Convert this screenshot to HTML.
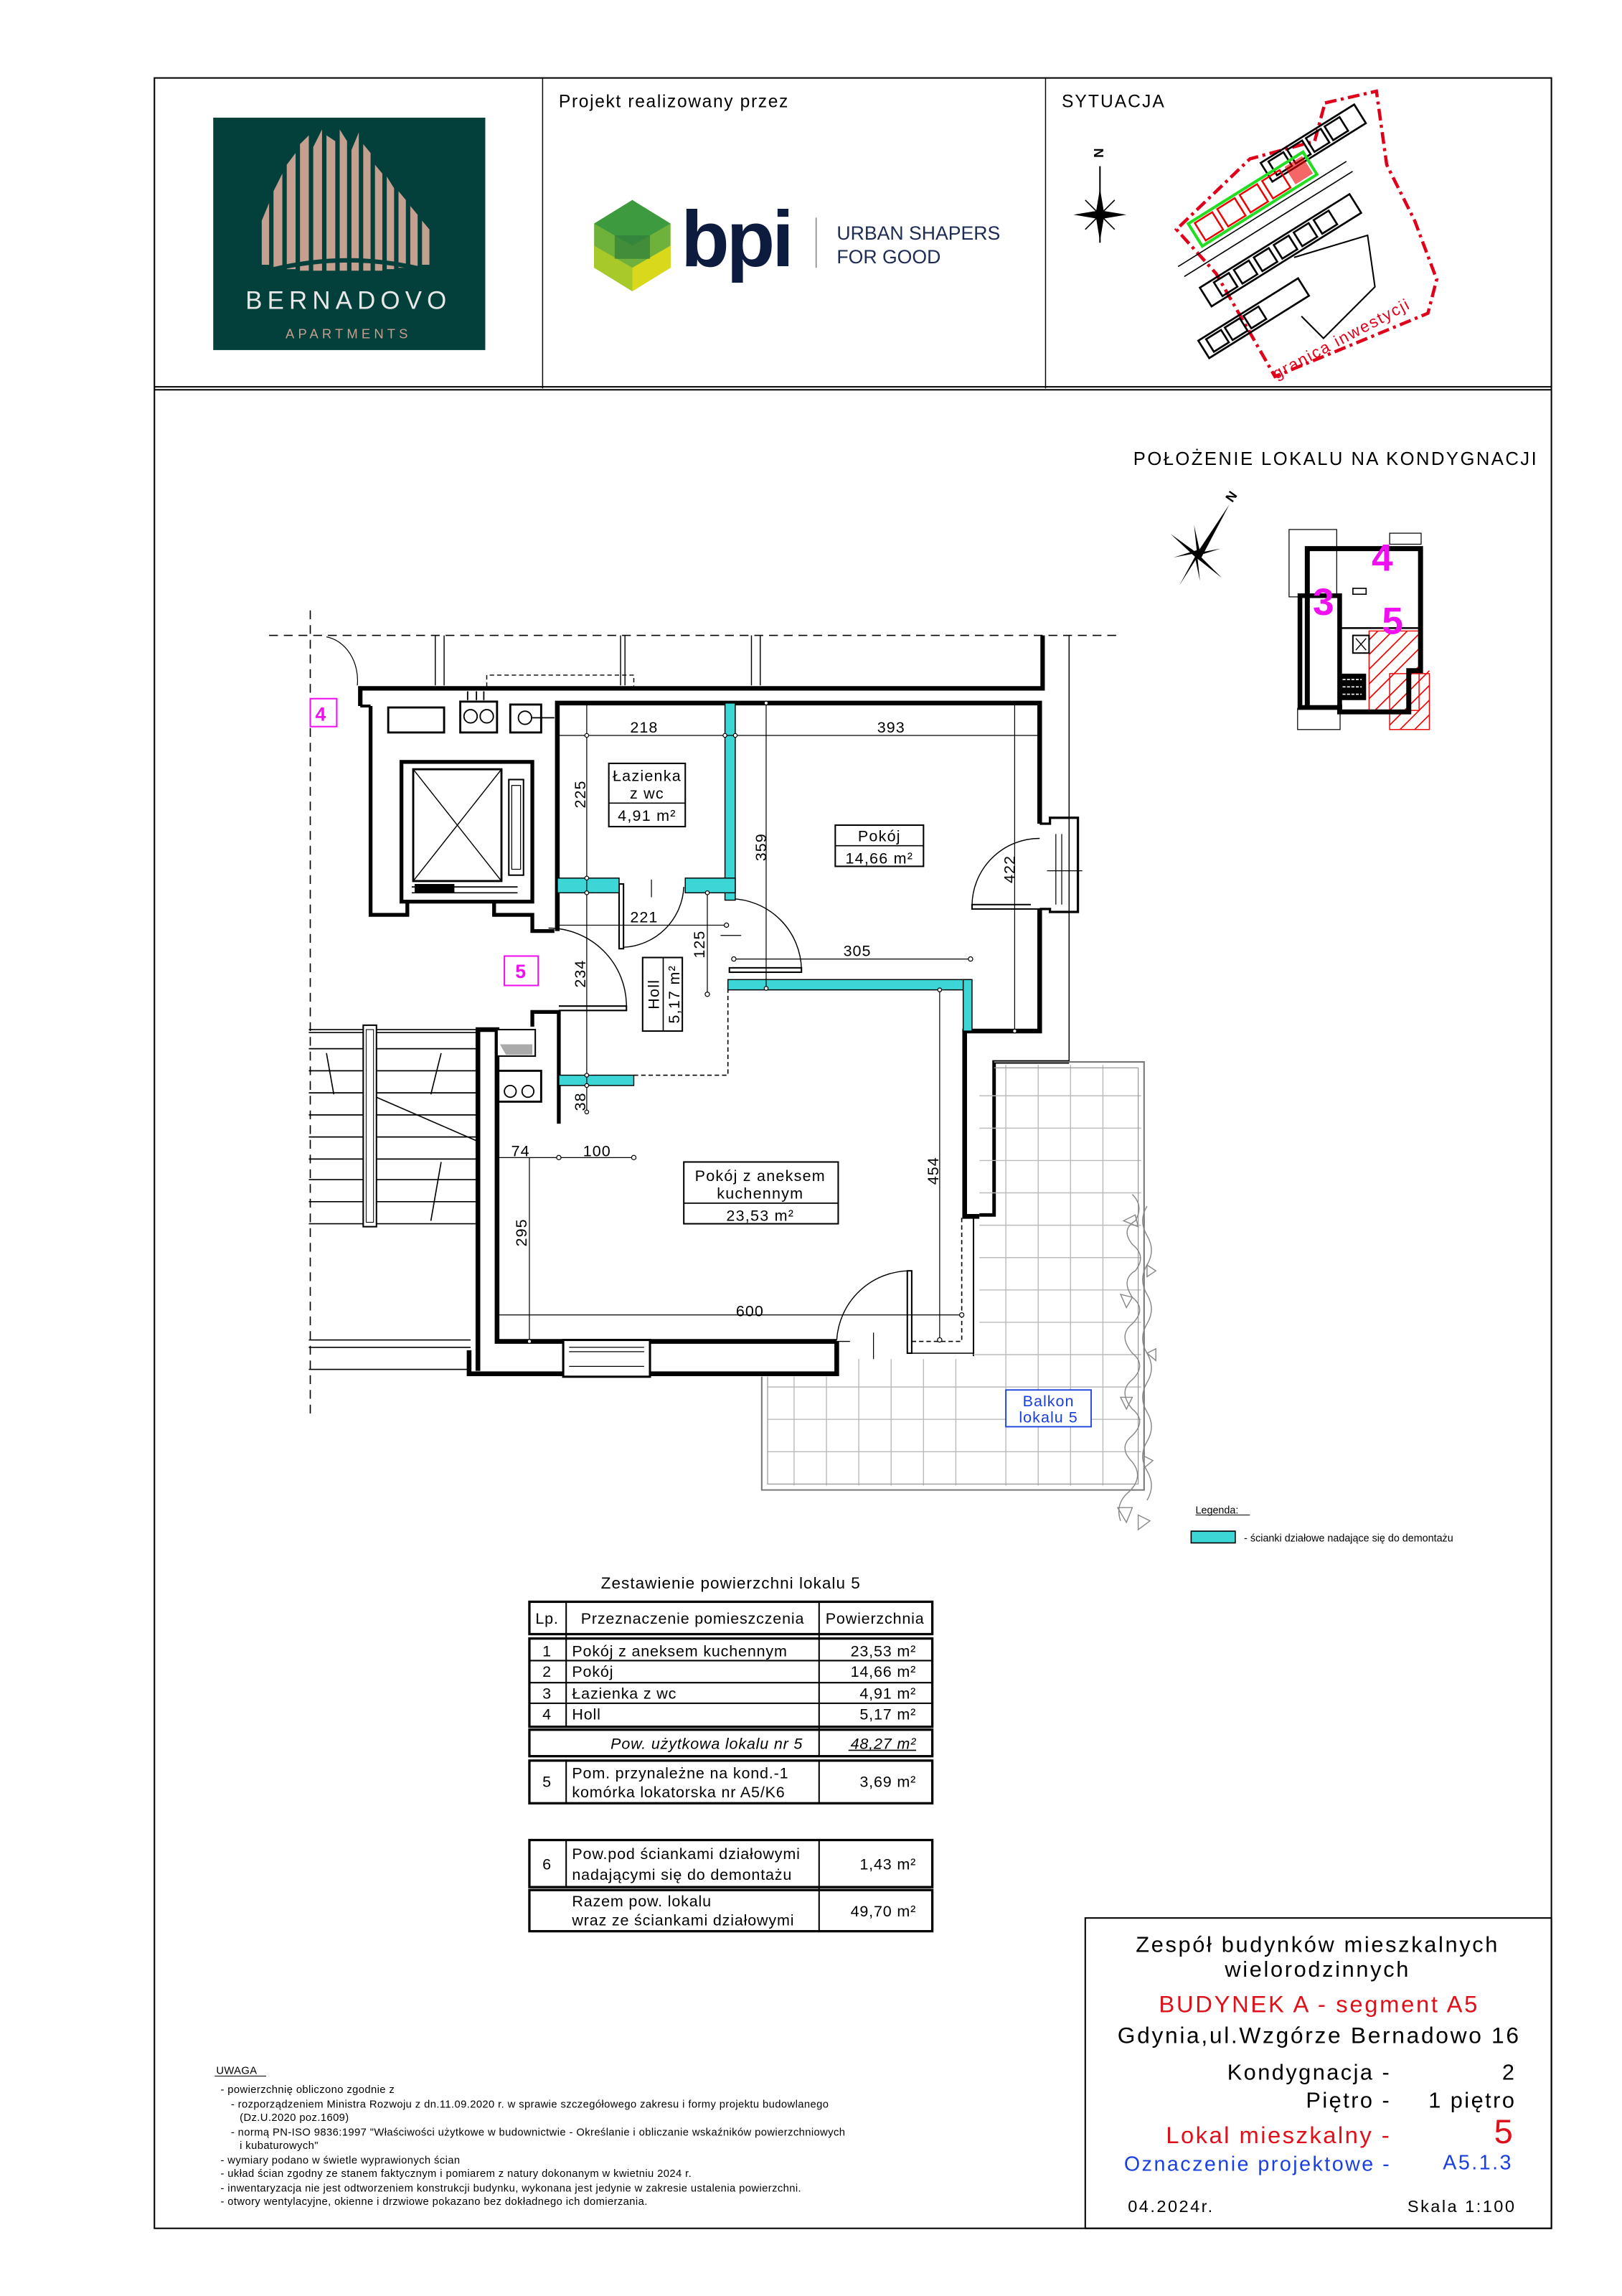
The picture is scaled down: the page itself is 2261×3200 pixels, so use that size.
<!DOCTYPE html>
<html><head><meta charset="utf-8">
<style>
html,body{margin:0;padding:0;background:#fff;}
svg{display:block;}
text{font-family:"Liberation Sans",sans-serif;}
.n{font-family:"Liberation Sans Narrow","Liberation Sans",sans-serif;}
</style></head>
<body>
<svg width="2261" height="3200" viewBox="0 0 1103 1561" preserveAspectRatio="none" xmlns="http://www.w3.org/2000/svg">
<rect width="1103" height="1561" fill="#fff"/>
<rect x="105" y="53" width="950" height="1462" fill="none" stroke="#000" stroke-width="1"/>
<line x1="105" y1="263" x2="1055" y2="263" stroke="#000" stroke-width="1"/>
<line x1="105" y1="265" x2="1055" y2="265" stroke="#000" stroke-width="1"/>
<line x1="369" y1="53" x2="369" y2="264" stroke="#000" stroke-width="0.7"/>
<line x1="711" y1="53" x2="711" y2="264" stroke="#000" stroke-width="0.7"/>

<rect x="145" y="80" width="185" height="158" fill="#04403b"/>
<g fill="#c59f8f">
<polygon points="178,180 178,150 183,138 183,180"/>
<polygon points="186,182 186,130 192,118 192,182"/>
<polygon points="195,183 195,112 201,104 201,183"/>
<polygon points="204,184 204,98 210,92 210,184"/>
<polygon points="213,184 213,100 219,88 219,184"/>
<polygon points="222,184 222,92 228,96 228,184"/>
<polygon points="231,184 231,88 236,96 236,184"/>
<polygon points="239,184 239,102 244,90 244,184"/>
<polygon points="247,184 247,98 252,104 252,184"/>
<polygon points="255,184 255,112 260,118 260,184"/>
<polygon points="263,183 263,120 268,128 268,183"/>
<polygon points="271,182 271,130 276,136 276,182"/>
<polygon points="279,181 279,140 284,146 284,181"/>
<polygon points="287,180 287,150 292,156 292,180"/>
</g>
<path d="M175,186 Q237,168 298,186" stroke="#04403b" stroke-width="3" fill="none"/>
<text x="237" y="210" font-size="17" fill="#e8e8e8" text-anchor="middle" letter-spacing="3.5">BERNADOVO</text>
<text x="237" y="230" font-size="9" fill="#c59f8f" text-anchor="middle" letter-spacing="2.5">APARTMENTS</text>

<text x="380" y="73" font-size="12" letter-spacing="0.8">Projekt realizowany przez</text>
<polygon points="430,136 456,152 456,182 430,198 404,182 404,152" fill="#6fb23b"/>
<polygon points="430,136 456,152 430,167 404,152" fill="#3e9a3e"/>
<polygon points="404,167 430,182 430,198 404,182" fill="#a8c92a"/>
<polygon points="430,182 456,167 456,182 430,198" fill="#d9d81a"/>
<polygon points="418,160 442,160 442,176 418,176" fill="#2f7d3a" opacity="0.7"/>
<text x="463" y="181" font-size="54" font-weight="bold" fill="#0d1b3e" letter-spacing="-2">bpi</text>
<line x1="555" y1="148" x2="555" y2="182" stroke="#888" stroke-width="0.8"/>
<text x="569" y="163" font-size="13" fill="#1d2c55">URBAN SHAPERS</text>
<text x="569" y="179" font-size="13" fill="#1d2c55">FOR GOOD</text>

<text x="722" y="73" font-size="12" letter-spacing="1">SYTUACJA</text>
<text x="748" y="108" font-size="9" text-anchor="middle" transform="rotate(90 748 104)" font-weight="bold">N</text>
<line x1="748" y1="113" x2="748" y2="165" stroke="#000" stroke-width="1"/>
<polygon points="748,128 751,146 748,164 745,146" fill="#000"/>
<polygon points="730,146 748,143 766,146 748,149" fill="#000"/>
<line x1="738" y1="136" x2="758" y2="156" stroke="#000" stroke-width="0.8"/>
<line x1="758" y1="136" x2="738" y2="156" stroke="#000" stroke-width="0.8"/>
<polygon points="901,70 936,62 943,112 962,150 977,190 971,213 867,256 827,186 800,156 850,108 894,96" fill="none" stroke="#e0001a" stroke-width="2.2" stroke-dasharray="8,3,2,3"/>
<g transform="rotate(-32 870 150)" fill="none" stroke="#000" stroke-width="1.3">
<rect x="880" y="110" width="75" height="15"/>
<rect x="885" y="112" width="12" height="11"/><rect x="900" y="112" width="12" height="11"/><rect x="915" y="112" width="12" height="11"/><rect x="930" y="112" width="12" height="11"/>
<rect x="800" y="160" width="120" height="15"/>
<rect x="810" y="162" width="12" height="11"/><rect x="826" y="162" width="12" height="11"/><rect x="842" y="162" width="12" height="11"/><rect x="858" y="162" width="12" height="11"/><rect x="874" y="162" width="12" height="11"/><rect x="890" y="162" width="12" height="11"/>
<rect x="780" y="190" width="80" height="14"/>
<rect x="785" y="192" width="12" height="10"/><rect x="800" y="192" width="12" height="10"/><rect x="815" y="192" width="12" height="10"/>
<path d="M795,140 L930,140 M795,148 L930,148" stroke-width="0.8"/>
</g>
<g transform="rotate(-32 850 140)">
<rect x="808" y="128" width="92" height="18" fill="none" stroke="#22dd22" stroke-width="2"/>
<rect x="812" y="130" width="14" height="14" fill="none" stroke="#e00" stroke-width="1.2"/>
<rect x="830" y="130" width="14" height="14" fill="none" stroke="#e00" stroke-width="1.2"/>
<rect x="848" y="130" width="14" height="14" fill="none" stroke="#e00" stroke-width="1.2"/>
<rect x="866" y="130" width="14" height="14" fill="none" stroke="#e00" stroke-width="1.2"/>
<rect x="884" y="130" width="14" height="14" fill="#e00" opacity="0.6"/>
</g>
<path d="M880,175 L930,160 L935,195 L900,230 L885,215" fill="none" stroke="#000" stroke-width="1"/>
<text x="0" y="0" font-size="11" fill="#e0001a" letter-spacing="1" transform="translate(868,258) rotate(-28)">granica inwestycji</text>

<text x="1046" y="316" font-size="12.5" text-anchor="end" letter-spacing="1.2">POŁOŻENIE LOKALU NA KONDYGNACJI</text>
<g transform="translate(814,376)">
<polygon points="0,0 22,-33 3,3" fill="#000"/>
<polygon points="0,0 -18,-13 -2,2" fill="#000"/>
<polygon points="0,0 -12,22 2,0" fill="#000"/>
<polygon points="0,0 17,17 -2,2" fill="#000"/>
<polygon points="0,0 -2,-19 2,-1" fill="#000"/>
<polygon points="0,0 16,-3 0,2" fill="#000"/>
<polygon points="0,0 -16,3 0,-2" fill="#000"/>
<polygon points="0,0 2,19 -2,0" fill="#000"/>
<text x="24" y="-34" font-size="9" transform="rotate(-55 24 -34)" font-weight="bold">N</text>
</g>
<g>
<rect x="876.6" y="360" width="32.4" height="45.8" fill="none" stroke="#000" stroke-width="0.6"/>
<rect x="945" y="362.5" width="21.4" height="7.5" fill="none" stroke="#000" stroke-width="0.6"/>
<rect x="882.4" y="481.6" width="28.9" height="14.4" fill="none" stroke="#000" stroke-width="0.6"/>
<polygon points="931,429 965,429 965,458 972,458 972,496 945,496 945,483 931,483" fill="#fff"/>
<g stroke="#e00" stroke-width="0.8">
<line x1="931" y1="435" x2="937" y2="429"/><line x1="931" y1="445" x2="947" y2="429"/><line x1="931" y1="455" x2="957" y2="429"/><line x1="931" y1="465" x2="965" y2="431"/><line x1="931" y1="475" x2="965" y2="441"/><line x1="935" y1="483" x2="965" y2="453"/><line x1="945" y1="483" x2="972" y2="456"/><line x1="945" y1="493" x2="972" y2="466"/><line x1="952" y1="496" x2="972" y2="476"/><line x1="962" y1="496" x2="972" y2="486"/>
</g>
<rect x="931" y="429" width="34" height="54" fill="none" stroke="#e00" stroke-width="0.7"/>
<rect x="945" y="458" width="27" height="38" fill="none" stroke="#e00" stroke-width="0.7"/>
<path d="M889,481 L889,373 L966,373 L966,456 L958,456 L958,484 L911,484 L911,479" fill="none" stroke="#000" stroke-width="3.4"/>
<path d="M884,405 L911,405 L911,481 L884,481 Z" fill="none" stroke="#000" stroke-width="3.2"/>
<line x1="911" y1="427" x2="966" y2="427" stroke="#000" stroke-width="1.2"/>
<rect x="920" y="400" width="9" height="4" fill="none" stroke="#000" stroke-width="0.8"/>
<rect x="920" y="432" width="11" height="12" fill="none" stroke="#000" stroke-width="1"/>
<path d="M922,434 L929,442 M929,434 L922,442" stroke="#000" stroke-width="0.7"/>
<rect x="911" y="458" width="18" height="18" fill="#000"/>
<path d="M913,462 L926,462 M913,467 L926,467 M913,472 L926,472" stroke="#fff" stroke-width="0.8" stroke-dasharray="2,1"/>
<text x="940" y="388" font-size="26" fill="#ee10ee" font-weight="bold" text-anchor="middle">4</text>
<text x="900" y="418" font-size="26" fill="#ee10ee" font-weight="bold" text-anchor="middle">3</text>
<text x="947" y="431" font-size="26" fill="#ee10ee" font-weight="bold" text-anchor="middle">5</text>
</g>

<line x1="183" y1="432" x2="762" y2="432" stroke="#000" stroke-width="0.8" stroke-dasharray="6,4"/>
<line x1="211" y1="415" x2="211" y2="962" stroke="#000" stroke-width="0.8" stroke-dasharray="6,4"/>
<path d="M222,433 A25,30 0 0 1 243,466" fill="none" stroke="#000" stroke-width="0.6"/>
<g stroke="#000" stroke-width="0.7">
<line x1="296" y1="432" x2="296" y2="466"/><line x1="302" y1="432" x2="302" y2="466"/>
<line x1="422" y1="432" x2="422" y2="466"/><line x1="425" y1="432" x2="425" y2="466"/>
<line x1="511" y1="432" x2="511" y2="466"/><line x1="517" y1="432" x2="517" y2="466"/>
<line x1="727" y1="432" x2="727" y2="722"/>
</g>
<path d="M331,467 L331,459 L431,459 L431,467" fill="none" stroke="#000" stroke-width="0.7" stroke-dasharray="3,2"/>
<path d="M245,480 L245,468 L709,468 L709,432" fill="none" stroke="#000" stroke-width="3"/>
<path d="M252,480 L252,622 L277,622 L277,612 M336,612 L336,622 L362,622 L362,633 L377,633" fill="none" stroke="#000" stroke-width="2.6"/>
<path d="M245,480 L252,480" stroke="#000" stroke-width="2"/>
<g fill="none" stroke="#000" stroke-width="1.4">
<rect x="264" y="481" width="38" height="17"/>
<rect x="313" y="477" width="25" height="21"/>
<rect x="347" y="479" width="21" height="19"/>
</g>
<g fill="none" stroke="#000" stroke-width="0.9">
<circle cx="320" cy="487" r="4.5"/><circle cx="331" cy="487" r="4.5"/><circle cx="357" cy="488" r="4.5"/>
<line x1="362" y1="488" x2="377" y2="488"/>
<line x1="318" y1="476" x2="318" y2="470"/><line x1="324" y1="476" x2="324" y2="470"/><line x1="329" y1="476" x2="329" y2="470"/>
</g>
<rect x="273" y="518" width="89" height="95" fill="none" stroke="#000" stroke-width="2.6"/>
<rect x="281" y="523" width="60" height="76" fill="none" stroke="#000" stroke-width="1.4"/>
<path d="M281,523 L341,599 M341,523 L281,599" stroke="#000" stroke-width="0.7"/>
<rect x="346" y="530" width="10" height="65" fill="none" stroke="#000" stroke-width="1"/>
<rect x="348" y="534" width="6" height="57" fill="none" stroke="#000" stroke-width="0.6"/>
<rect x="282" y="601" width="27" height="6" fill="#000"/>
<path d="M280,603 L352,603 M280,607 L352,607" stroke="#000" stroke-width="0.8"/>
<path d="M379,633 L379,478 L707,478 L707,560 M707,618 L707,701 L656,701 L656,827 L666,827" fill="none" stroke="#000" stroke-width="3.2"/>
<path d="M727,722 L676,722 L676,826 L666,826" fill="none" stroke="#000" stroke-width="2.4"/>
<path d="M707,560 L714,560 L714,556 L733,556 L733,620 L714,620 L714,618 L707,618" fill="none" stroke="#000" stroke-width="1.6"/>
<path d="M718,567 L718,615 M722,567 L722,615" stroke="#000" stroke-width="0.6"/>
<path d="M701,615 L661,615 L661,618 L707,618" fill="none" stroke="#000" stroke-width="1"/>
<path d="M661,616 A46,46 0 0 1 707,570" fill="none" stroke="#000" stroke-width="0.7"/>
<line x1="712" y1="592" x2="736" y2="592" stroke="#000" stroke-width="0.6"/>
<path d="M362,698 L362,688 L380,688 L380,764" fill="none" stroke="#000" stroke-width="2.6"/>
<path d="M380,684 L426,684 L426,687 L380,687" fill="none" stroke="#000" stroke-width="1"/>
<path d="M373,631 A53,53 0 0 1 426,684" fill="none" stroke="#000" stroke-width="0.7"/>
<path d="M325,932 L325,700 L338,700 L338,756 M338,756 L338,912 L569,912" fill="none" stroke="#000" stroke-width="3.2"/>
<path d="M319,918 L319,934 L569,934 L569,912" fill="none" stroke="#000" stroke-width="3.2"/>
<path d="M324,700 L338,700" stroke="#000" stroke-width="2"/>
<rect x="383" y="911" width="59" height="25" fill="#fff" stroke="#000" stroke-width="1.5"/>
<path d="M387,916 L438,916 M387,919 L438,919 M387,929 L438,929" stroke="#000" stroke-width="0.6"/>
<path d="M569,912 L578,912 M569,911 A50,50 0 0 1 619,864" fill="none" stroke="#000" stroke-width="0.7"/>
<rect x="617" y="864" width="3" height="56" fill="none" stroke="#000" stroke-width="1"/>
<path d="M620,920 L662,920" stroke="#000" stroke-width="0.7"/>
<path d="M594,906 L594,924" stroke="#000" stroke-width="0.6"/>
<path d="M620,912 L654,912 L654,826" fill="none" stroke="#000" stroke-width="0.8" stroke-dasharray="3,2"/>
<path d="M662,826 L662,922" stroke="#000" stroke-width="1"/>
<rect x="421" y="601" width="3" height="44" fill="none" stroke="#000" stroke-width="1"/>
<path d="M424,644 A43,43 0 0 0 465,603" fill="none" stroke="#000" stroke-width="0.7"/>
<line x1="443" y1="598" x2="443" y2="610" stroke="#000" stroke-width="0.6"/>
<path d="M497,611 A49,49 0 0 1 545,659" fill="none" stroke="#000" stroke-width="0.7"/>
<rect x="496" y="658" width="49" height="3" fill="none" stroke="#000" stroke-width="1"/>
<line x1="490" y1="636" x2="504" y2="636" stroke="#000" stroke-width="0.6"/>
<path d="M431,731 L495,731 L495,672" fill="none" stroke="#000" stroke-width="0.8" stroke-dasharray="3,2"/>
<g fill="#3cd6d6" stroke="#000" stroke-width="0.7">
<rect x="493" y="478" width="7" height="134"/>
<rect x="379" y="597" width="42" height="10"/>
<rect x="466" y="597" width="34" height="10"/>
<rect x="495" y="666" width="165" height="7"/>
<rect x="655" y="666" width="6" height="35"/>
<rect x="380" y="731" width="51" height="7"/>
</g>
<rect x="338" y="700" width="26" height="18" fill="#fff" stroke="#000" stroke-width="1"/>
<polygon points="340,710 362,710 362,717 344,717" fill="#aaa"/>
<rect x="338" y="728" width="30" height="21" fill="none" stroke="#000" stroke-width="1.4"/>
<circle cx="347" cy="742" r="4" fill="none" stroke="#000" stroke-width="0.9"/>
<circle cx="359" cy="742" r="4" fill="none" stroke="#000" stroke-width="0.9"/>
<g stroke="#000" stroke-width="0.8">
<line x1="210" y1="700" x2="325" y2="700"/><line x1="210" y1="702" x2="325" y2="702"/>
<line x1="210" y1="713" x2="325" y2="713"/><line x1="210" y1="728" x2="325" y2="728"/>
<line x1="210" y1="743" x2="325" y2="743"/><line x1="210" y1="758" x2="325" y2="758"/>
<line x1="210" y1="773" x2="325" y2="773"/><line x1="210" y1="788" x2="325" y2="788"/>
<line x1="210" y1="802" x2="325" y2="802"/><line x1="210" y1="817" x2="325" y2="817"/>
<line x1="210" y1="832" x2="248" y2="832"/><line x1="256" y1="832" x2="325" y2="832"/>
<line x1="222" y1="716" x2="227" y2="744"/><line x1="300" y1="716" x2="293" y2="744"/>
<line x1="300" y1="790" x2="293" y2="830"/>
<line x1="256" y1="746" x2="325" y2="776"/>
<line x1="210" y1="911" x2="320" y2="911"/><line x1="210" y1="916" x2="320" y2="916"/>
<line x1="210" y1="931" x2="320" y2="931"/>
</g>
<rect x="247" y="697" width="9" height="137" fill="#fff" stroke="#000" stroke-width="1"/>
<rect x="249" y="700" width="5" height="131" fill="none" stroke="#000" stroke-width="0.5"/>
<g stroke="#bbb" stroke-width="0.7">
<line x1="684" y1="724" x2="684" y2="1010"/><line x1="706" y1="724" x2="706" y2="1010"/>
<line x1="728" y1="724" x2="728" y2="1010"/><line x1="750" y1="724" x2="750" y2="1010"/>
<line x1="540" y1="936" x2="540" y2="1010"/><line x1="562" y1="936" x2="562" y2="1010"/>
<line x1="584" y1="924" x2="584" y2="1010"/><line x1="606" y1="924" x2="606" y2="1010"/>
<line x1="628" y1="924" x2="628" y2="1010"/><line x1="650" y1="924" x2="650" y2="1010"/>
<line x1="666" y1="745" x2="776" y2="745"/><line x1="666" y1="767" x2="776" y2="767"/>
<line x1="666" y1="789" x2="776" y2="789"/><line x1="666" y1="811" x2="776" y2="811"/>
<line x1="666" y1="833" x2="776" y2="833"/><line x1="666" y1="855" x2="776" y2="855"/>
<line x1="666" y1="877" x2="776" y2="877"/><line x1="666" y1="899" x2="776" y2="899"/>
<line x1="662" y1="921" x2="776" y2="921"/><line x1="522" y1="943" x2="776" y2="943"/>
<line x1="522" y1="965" x2="776" y2="965"/><line x1="522" y1="987" x2="776" y2="987"/>
</g>
<path d="M676,722 L778,722 L778,1013 L518,1013 L518,936" fill="none" stroke="#777" stroke-width="1"/>
<path d="M676,726 L774,726 L774,1009 L522,1009 L522,936" fill="none" stroke="#999" stroke-width="0.6"/>
<g fill="none" stroke="#888" stroke-width="0.7">
<path d="M770,812 q8,8 2,18 q-10,6 -2,16 q10,8 2,18 q-10,6 -2,18 q10,8 0,18 q-10,8 0,20 q10,8 0,18 q-10,8 0,20 q10,8 0,18 q-10,8 0,18 q8,10 -2,20 q-10,8 -6,20"/>
<path d="M780,820 q-6,10 0,20 q6,10 0,20 q-6,10 0,20 q6,10 0,20 q-6,10 0,20 q6,10 0,20 q-6,10 0,20 q6,10 0,20 q-6,10 0,20 q6,10 0,20"/>
<path d="M764,830 l8,-4 l2,8 z M780,860 l6,4 l-6,4 z M762,880 l8,2 l-4,7 z M780,920 l6,-3 l0,8 z M762,950 l8,0 l-4,8 z M778,990 l6,3 l-6,5 z M760,1025 l10,0 l-4,10 z M774,1030 l8,4 l-8,6 z"/>
</g>
<rect x="684" y="945" width="58" height="25" fill="#fff" stroke="#1a3fe0" stroke-width="0.9"/>
<text x="713" y="956" font-size="10.5" fill="#1a3fe0" text-anchor="middle" letter-spacing="0.5">Balkon</text>
<text x="713" y="967" font-size="10.5" fill="#1a3fe0" text-anchor="middle" letter-spacing="0.5">lokalu 5</text>

<g stroke="#000" stroke-width="0.6" fill="none">
<line x1="379" y1="500" x2="707" y2="500"/>
<line x1="399" y1="478" x2="399" y2="756"/>
<line x1="521" y1="478" x2="521" y2="672"/>
<line x1="690" y1="478" x2="690" y2="701"/>
<line x1="379" y1="629" x2="494" y2="629"/>
<line x1="481" y1="607" x2="481" y2="676"/>
<line x1="499" y1="652" x2="660" y2="652"/>
<line x1="639" y1="673" x2="639" y2="911"/>
<line x1="338" y1="787" x2="431" y2="787"/>
<line x1="360" y1="787" x2="360" y2="912"/>
<line x1="338" y1="894" x2="654" y2="894"/>
</g>
<g fill="#fff" stroke="#000" stroke-width="0.6">
<circle cx="399" cy="500" r="1.3"/><circle cx="493" cy="500" r="1.3"/><circle cx="500" cy="500" r="1.3"/><circle cx="521" cy="478" r="1.3"/>
<circle cx="399" cy="597" r="1.3"/><circle cx="399" cy="607" r="1.3"/><circle cx="399" cy="731" r="1.3"/><circle cx="399" cy="738" r="1.3"/><circle cx="399" cy="756" r="1.3"/>
<circle cx="494" cy="629" r="1.5"/><circle cx="481" cy="607" r="1.3"/><circle cx="481" cy="676" r="1.5"/>
<circle cx="499" cy="652" r="1.5"/><circle cx="660" cy="652" r="1.5"/><circle cx="521" cy="672" r="1.3"/>
<circle cx="639" cy="673" r="1.3"/><circle cx="639" cy="911" r="1.5"/>
<circle cx="380" cy="787" r="1.5"/><circle cx="431" cy="787" r="1.5"/><circle cx="360" cy="912" r="1.3"/>
<circle cx="654" cy="894" r="1.5"/><circle cx="690" cy="701" r="1.3"/>
</g>
<g font-size="10.5" text-anchor="middle" letter-spacing="0.5">
<text x="438" y="498">218</text>
<text x="606" y="498">393</text>
<text x="438" y="627">221</text>
<text x="583" y="650">305</text>
<text x="354" y="786">74</text>
<text x="406" y="786">100</text>
<text x="510" y="895">600</text>
<text transform="translate(398,540) rotate(-90)">225</text>
<text transform="translate(521,576) rotate(-90)">359</text>
<text transform="translate(690,591) rotate(-90)">422</text>
<text transform="translate(479,642) rotate(-90)">125</text>
<text transform="translate(398,662) rotate(-90)">234</text>
<text transform="translate(398,749) rotate(-90)">38</text>
<text transform="translate(638,796) rotate(-90)">454</text>
<text transform="translate(358,838) rotate(-90)">295</text>
</g>
<g fill="#fff" stroke="#000" stroke-width="1">
<rect x="414" y="519" width="52" height="43"/>
<rect x="568" y="561" width="60" height="28"/>
<rect x="437" y="651" width="27" height="50"/>
<rect x="465" y="790" width="105" height="42"/>
</g>
<g stroke="#000" stroke-width="0.8">
<line x1="414" y1="546" x2="466" y2="546"/>
<line x1="568" y1="575" x2="628" y2="575"/>
<line x1="451" y1="651" x2="451" y2="701"/>
<line x1="465" y1="818" x2="570" y2="818"/>
</g>
<g font-size="10.5" text-anchor="middle" letter-spacing="0.6">
<text x="440" y="531">Łazienka</text>
<text x="440" y="543">z wc</text>
<text x="440" y="558">4,91 m²</text>
<text x="598" y="572">Pokój</text>
<text x="598" y="587">14,66 m²</text>
<text x="517" y="803">Pokój z aneksem</text>
<text x="517" y="815">kuchennym</text>
<text x="517" y="830">23,53 m²</text>
<text transform="translate(448,676) rotate(-90)">Holl</text>
<text transform="translate(462,676) rotate(-90)">5,17 m²</text>
</g>
<rect x="211" y="475" width="18" height="19" fill="none" stroke="#ee10ee" stroke-width="1"/>
<text x="218" y="490" font-size="13" font-weight="bold" fill="#ee10ee" text-anchor="middle">4</text>
<rect x="343" y="650" width="23" height="20" fill="none" stroke="#ee10ee" stroke-width="1"/>
<text x="354" y="665" font-size="13" font-weight="bold" fill="#ee10ee" text-anchor="middle">5</text>

<text x="813" y="1029" font-size="7">Legenda:</text>
<line x1="813" y1="1030" x2="850" y2="1030" stroke="#000" stroke-width="0.5"/>
<rect x="810" y="1041" width="30" height="8" fill="#3cd6d6" stroke="#000" stroke-width="0.8"/>
<text x="846" y="1048" font-size="7">- ścianki działowe nadające się do demontażu</text>

<text x="497" y="1080" font-size="11" text-anchor="middle" letter-spacing="0.5">Zestawienie powierzchni lokalu 5</text>
<g fill="none" stroke="#000">
<rect x="360" y="1089" width="274" height="22" stroke-width="1.6"/>
<rect x="360" y="1114" width="274" height="60" stroke-width="1.6"/>
<line x1="360" y1="1129" x2="634" y2="1129" stroke-width="1"/>
<line x1="360" y1="1144" x2="634" y2="1144" stroke-width="1"/>
<line x1="360" y1="1158" x2="634" y2="1158" stroke-width="1"/>
<rect x="360" y="1176" width="274" height="18" stroke-width="1.6"/>
<rect x="360" y="1197" width="274" height="29" stroke-width="1.6"/>
<rect x="360" y="1251" width="274" height="32" stroke-width="1.6"/>
<rect x="360" y="1285" width="274" height="28" stroke-width="1.6"/>
<line x1="385" y1="1089" x2="385" y2="1174" stroke-width="1"/>
<line x1="557" y1="1089" x2="557" y2="1194" stroke-width="1"/>
<line x1="385" y1="1197" x2="385" y2="1226" stroke-width="1"/>
<line x1="557" y1="1197" x2="557" y2="1226" stroke-width="1"/>
<line x1="385" y1="1251" x2="385" y2="1283" stroke-width="1"/>
<line x1="557" y1="1251" x2="557" y2="1313" stroke-width="1"/>
<line x1="577" y1="1190" x2="623" y2="1190" stroke-width="0.8"/>
</g>
<g class="n" font-size="10.5" letter-spacing="0.4">
<text x="372" y="1104" text-anchor="middle" class="n">Lp.</text>
<text x="471" y="1104" text-anchor="middle" class="n">Przeznaczenie pomieszczenia</text>
<text x="595" y="1104" text-anchor="middle" class="n">Powierzchnia</text>
<text x="372" y="1126" text-anchor="middle" class="n">1</text><text x="389" y="1126" class="n">Pokój z aneksem kuchennym</text><text x="623" y="1126" text-anchor="end" class="n">23,53 m²</text>
<text x="372" y="1140" text-anchor="middle" class="n">2</text><text x="389" y="1140" class="n">Pokój</text><text x="623" y="1140" text-anchor="end" class="n">14,66 m²</text>
<text x="372" y="1155" text-anchor="middle" class="n">3</text><text x="389" y="1155" class="n">Łazienka z wc</text><text x="623" y="1155" text-anchor="end" class="n">4,91 m²</text>
<text x="372" y="1169" text-anchor="middle" class="n">4</text><text x="389" y="1169" class="n">Holl</text><text x="623" y="1169" text-anchor="end" class="n">5,17 m²</text>
<text x="546" y="1189" text-anchor="end" font-style="italic" class="n">Pow. użytkowa lokalu nr 5</text><text x="623" y="1189" text-anchor="end" font-style="italic" class="n">48,27 m²</text>
<text x="372" y="1215" text-anchor="middle" class="n">5</text><text x="389" y="1209" class="n">Pom. przynależne na kond.-1</text><text x="389" y="1222" class="n">komórka lokatorska nr A5/K6</text><text x="623" y="1215" text-anchor="end" class="n">3,69 m²</text>
<text x="372" y="1271" text-anchor="middle" class="n">6</text><text x="389" y="1264" class="n">Pow.pod ściankami działowymi</text><text x="389" y="1278" class="n">nadającymi się do demontażu</text><text x="623" y="1271" text-anchor="end" class="n">1,43 m²</text>
<text x="389" y="1296" class="n">Razem pow. lokalu</text><text x="389" y="1309" class="n">wraz ze ściankami działowymi</text><text x="623" y="1303" text-anchor="end" class="n">49,70 m²</text>
</g>

<rect x="738" y="1304" width="317" height="211" fill="none" stroke="#000" stroke-width="1"/>
<g text-anchor="middle" letter-spacing="1.3">
<text x="896" y="1327" font-size="15">Zespół budynków mieszkalnych</text>
<text x="896" y="1344" font-size="15">wielorodzinnych</text>
<text x="897" y="1368" font-size="16" fill="#e0101a">BUDYNEK A - segment A5</text>
<text x="897" y="1389" font-size="15.5">Gdynia,ul.Wzgórze Bernadowo 16</text>
</g>
<g font-size="15" letter-spacing="1.2">
<text x="946" y="1414" text-anchor="end">Kondygnacja -</text>
<text x="1031" y="1414" text-anchor="end">2</text>
<text x="946" y="1433" text-anchor="end">Piętro -</text>
<text x="1031" y="1433" text-anchor="end">1 piętro</text>
<text x="946" y="1457" text-anchor="end" font-size="16" fill="#e0101a">Lokal mieszkalny -</text>
<text x="1023" y="1457" text-anchor="middle" font-size="23" fill="#e0101a">5</text>
<text x="946" y="1476" text-anchor="end" font-size="14" fill="#1a3fe0">Oznaczenie projektowe -</text>
<text x="1005" y="1475" text-anchor="middle" font-size="14" fill="#1a3fe0">A5.1.3</text>
<text x="767" y="1504" font-size="11.5">04.2024r.</text>
<text x="1031" y="1504" font-size="11.5" text-anchor="end">Skala 1:100</text>
</g>

<g font-size="7.2" class="n" letter-spacing="0.2">
<text x="147" y="1410" class="n">UWAGA</text>
<line x1="146" y1="1411.5" x2="181" y2="1411.5" stroke="#000" stroke-width="0.5"/>
<text x="150" y="1423" class="n">- powierzchnię obliczono zgodnie z</text>
<text x="157" y="1433" class="n">- rozporządzeniem Ministra Rozwoju z dn.11.09.2020 r. w sprawie szczegółowego zakresu i formy projektu budowlanego</text>
<text x="163" y="1442" class="n">(Dz.U.2020 poz.1609)</text>
<text x="157" y="1452" class="n">- normą PN-ISO 9836:1997 "Właściwości użytkowe w budownictwie - Określanie i obliczanie wskaźników powierzchniowych</text>
<text x="163" y="1461" class="n">i kubaturowych"</text>
<text x="150" y="1471" class="n">- wymiary podano w świetle wyprawionych ścian</text>
<text x="150" y="1480" class="n">- układ ścian zgodny ze stanem faktycznym i pomiarem z natury dokonanym w kwietniu 2024 r.</text>
<text x="150" y="1490" class="n">- inwentaryzacja nie jest odtworzeniem konstrukcji budynku, wykonana jest jedynie w zakresie ustalenia powierzchni.</text>
<text x="150" y="1499" class="n">- otwory wentylacyjne, okienne i drzwiowe pokazano bez dokładnego ich domierzania.</text>
</g>
</svg>
</body></html>
